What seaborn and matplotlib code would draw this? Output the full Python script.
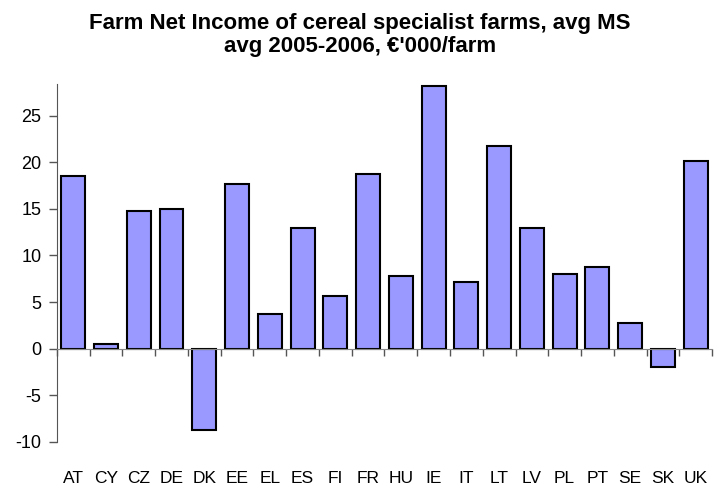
import matplotlib
matplotlib.use("Agg")
import matplotlib.pyplot as plt
import seaborn as sns
import pandas as pd
import numpy as np

countries = ["AT", "CY", "CZ", "DE", "DK", "EE", "EL", "ES", "FI", "FR",
             "HU", "IE", "IT", "LT", "LV", "PL", "PT", "SE", "SK", "UK"]
income = [18.5, 0.45, 14.8, 15.0, -8.7, 17.7, 3.75, 12.9, 5.6, 18.75,
          7.75, 28.2, 7.2, 21.75, 12.9, 8.0, 8.8, 2.7, -1.95, 20.1]
yticks = [-10, -5, 0, 5, 10, 15, 20, 25]
title = "Farm Net Income of cereal specialist farms, avg MS\navg 2005-2006, \u20ac'000/farm"

sns.set_style("white")
plt.rcParams['font.family'] = ['Liberation Sans', 'DejaVu Sans']
plt.rcParams['text.color'] = 'black'
plt.rcParams['xtick.labelcolor'] = 'black'
plt.rcParams['ytick.labelcolor'] = 'black'

df = pd.DataFrame({"country": countries, "income": income})

fig = plt.figure(figsize=(7.2, 4.86), dpi=100)
ax = fig.add_axes([0.079, 0.091, 0.910, 0.736])

sns.barplot(data=df, x="country", y="income", color="#9999FF", saturation=1,
            width=0.73, edgecolor="black", linewidth=1.5, ax=ax)

ax.set_xlim(-0.5, len(countries) - 0.5)
ax.set_ylim(-10, 28.4)
ax.set_yticks(yticks)
ax.set_yticklabels([str(v) for v in yticks], fontsize=13, color="black")
ax.tick_params(axis="y", direction="out", length=6, width=1, color="#555555", pad=5, left=True)

ax.spines["top"].set_visible(False)
ax.spines["right"].set_visible(False)
ax.spines["left"].set_color("#555555")
ax.spines["bottom"].set_position(("data", 0))
ax.spines["bottom"].set_color("#888888")

# major ticks at category boundaries, labels on minor ticks at centres
ax.set_xticks(np.arange(-0.5, len(countries)), minor=False)
ax.set_xticklabels([])
ax.set_xticks(np.arange(len(countries)), minor=True)
ax.set_xticklabels(countries, minor=True, fontsize=12.5, color="black")
ax.tick_params(axis="x", which="major", direction="out", length=5, width=1, color="#555555", bottom=True)
ax.tick_params(axis="x", which="minor", length=0, pad=88)

ax.set_xlabel("")
ax.set_ylabel("")
fig.suptitle(title, fontsize=16, fontweight="bold", y=0.974, va="top",
             linespacing=1.15, color="black")

fig.savefig("out.png", dpi=100)
